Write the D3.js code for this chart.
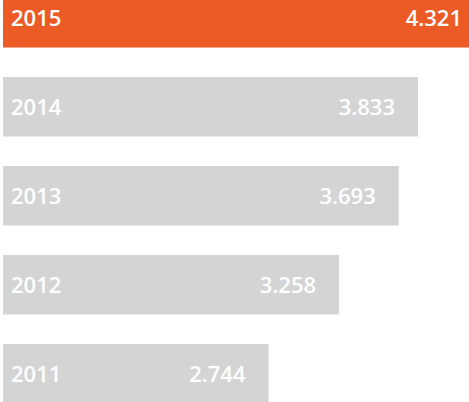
<!DOCTYPE html>
<html>
<head>
<meta charset="utf-8">
<script src="https://cdn.jsdelivr.net/npm/d3@7"></script>
<style>
  html, body { margin: 0; padding: 0; background: #ffffff; overflow: hidden; }
  svg { display: block; }
  text { font-family: "Open Sans", "Noto Sans", sans-serif; font-weight: 600; fill: #ffffff; }
</style>
</head>
<body>
<svg id="chart" width="469" height="402"></svg>
<script>
const years = ["2015", "2014", "2013", "2012", "2011"];
const values = [4.321, 3.833, 3.693, 3.258, 2.744];
const valueLabels = ["4.321", "3.833", "3.693", "3.258", "2.744"];
const highlightYear = "2015";

const W = 469, H = 402;
const svg = d3.select("#chart");

const data = years.map((y, i) => ({ year: y, value: values[i], label: valueLabels[i] }));

const x = d3.scaleLinear().domain([0.81, 4.321]).range([3, 485]);
const y = d3.scaleBand().domain(years).range([-12, 403.5]).paddingInner(0.331).paddingOuter(0);

const g = svg.append("g");

const rows = g.selectAll("g.row").data(data).enter().append("g").attr("class", "row");

rows.append("rect")
  .attr("x", x(0.81))
  .attr("y", d => y(d.year))
  .attr("width", d => x(d.value) - x(0.81))
  .attr("height", y.bandwidth())
  .attr("fill", d => d.year === highlightYear ? "#EC5B26" : "#D4D4D4");

rows.append("text")
  .attr("x", x(0.81) + 8)
  .attr("y", d => y(d.year) + y.bandwidth() / 2)
  .attr("dy", "0.36em")
  .attr("font-size", 22)
  .text(d => d.year);

rows.append("text")
  .attr("x", d => Math.min(x(d.value) - 23, W - 4))
  .attr("y", d => y(d.year) + y.bandwidth() / 2)
  .attr("dy", "0.36em")
  .attr("text-anchor", "end")
  .attr("font-size", 22)
  .text(d => d.label);
</script>
</body>
</html>
